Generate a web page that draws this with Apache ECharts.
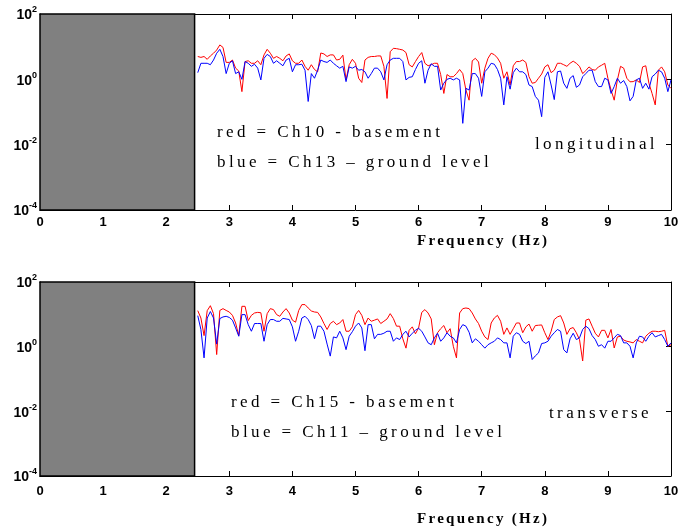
<!DOCTYPE html>
<html>
<head>
<meta charset="utf-8">
<script src="https://cdn.jsdelivr.net/npm/echarts@6/dist/echarts.min.js"></script>
<style>
html,body{margin:0;padding:0;background:#fff;}
#chart{width:683px;height:529px;}
</style>
</head>
<body>
<div id="chart"></div>
<script>
// ---------------- data ----------------
const xTicks = [0,1,2,3,4,5,6,7,8,9,10];
const yTickExponents = [-4,-2,0,2];
const grayBandEnd = 2.45; // Hz, shaded (excluded) low-frequency band

const freq = [
2.5,2.55,2.6,2.65,2.7,2.75,2.8,2.85,2.9,2.95,
3,3.05,3.1,3.15,3.2,3.25,3.3,3.35,3.4,3.45,
3.5,3.55,3.6,3.65,3.7,3.75,3.8,3.85,3.9,3.95,
4,4.05,4.1,4.15,4.2,4.25,4.3,4.35,4.4,4.45,
4.5,4.55,4.6,4.65,4.7,4.75,4.8,4.85,4.9,4.95,
5,5.05,5.1,5.15,5.2,5.25,5.3,5.35,5.4,5.45,
5.5,5.55,5.6,5.65,5.7,5.75,5.8,5.85,5.9,5.95,
6,6.05,6.1,6.15,6.2,6.25,6.3,6.35,6.4,6.45,
6.5,6.55,6.6,6.65,6.7,6.75,6.8,6.85,6.9,6.95,
7,7.05,7.1,7.15,7.2,7.25,7.3,7.35,7.4,7.45,
7.5,7.55,7.6,7.65,7.7,7.75,7.8,7.85,7.9,7.95,
8,8.05,8.1,8.15,8.2,8.25,8.3,8.35,8.4,8.45,
8.5,8.55,8.6,8.65,8.7,8.75,8.8,8.85,8.9,8.95,
9,9.05,9.1,9.15,9.2,9.25,9.3,9.35,9.4,9.45,
9.5,9.55,9.6,9.65,9.7,9.75,9.8,9.85,9.9,9.95,
10];

// longitudinal: red = Ch10 basement, blue = Ch13 ground level
const redLong = [
5.0,4.7,5.0,4.1,5.2,6.3,7.9,11.3,9.5,3.3,
3.3,3.9,2.2,1.8,0.42,3.5,3.7,3.1,3.1,3.7,
2.8,5.6,8.3,6.3,4.4,5.0,4.4,3.7,5.2,6.0,
3.7,3.1,3.1,3.9,2.5,1.9,2.8,2.0,1.7,6.4,
6.0,5.0,5.6,5.6,3.9,4.1,5.5,0.96,2.8,4.1,
3.1,1.08,0.8,3.9,4.7,5.0,5.0,5.2,5.2,2.5,
0.26,7.0,8.9,8.7,8.3,7.9,6.6,2.8,2.4,3.5,
5.0,6.6,3.1,2.6,2.8,3.1,3.1,1.4,0.37,1.4,
1.2,1.2,1.5,2.0,1.5,0.47,0.23,3.7,4.4,3.4,
0.76,2.2,4.4,6.3,5.7,4.5,3.1,1.08,1.7,0.67,
2.6,3.5,3.5,3.9,3.3,1.2,0.76,0.8,1.08,1.45,
2.4,2.8,1.6,1.9,3.1,3.1,2.8,2.5,3.1,3.6,
3.1,2.5,1.5,1.85,2.4,2.0,1.9,2.4,2.7,3.1,
1.08,0.47,0.23,0.96,2.5,2.2,1.08,0.84,0.85,0.96,
0.8,2.4,2.6,0.76,0.37,0.165,1.9,2.4,1.7,0.67,
0.53];
const blueLong = [
1.6,3.1,3.1,3.1,2.8,3.9,6.3,8.3,5.0,1.5,
3.1,3.7,1.5,1.7,1.0,3.5,3.1,2.5,2.9,2.2,
0.96,4.4,5.8,5.0,3.1,3.7,3.1,2.6,3.9,4.4,
1.7,2.8,2.8,2.9,1.9,0.21,1.5,1.08,1.9,3.9,
3.5,3.3,3.9,3.1,2.6,2.2,2.5,0.85,2.4,2.2,
2.5,1.9,2.0,1.7,1.08,1.5,2.2,2.2,1.7,0.96,
2.8,3.9,4.4,4.4,4.4,3.5,0.96,1.15,1.2,2.0,
3.1,3.7,0.76,1.9,3.0,2.5,2.5,0.47,0.76,1.0,
1.08,0.96,1.08,0.96,0.045,0.53,0.47,1.5,1.5,1.08,
0.30,1.7,2.2,3.1,2.9,2.0,1.08,0.165,1.2,0.5,
1.6,2.2,1.7,1.7,1.4,0.67,0.6,0.30,0.23,0.072,
1.15,1.7,0.67,0.24,1.7,1.8,0.76,0.53,1.08,1.3,
0.57,0.67,1.2,1.5,1.9,1.9,0.85,0.6,0.6,1.08,
0.96,0.37,0.6,1.08,0.76,0.92,0.6,0.22,0.30,0.96,
1.08,0.53,0.76,0.5,1.2,1.45,1.9,1.7,1.08,0.42,
0.96];

// transverse: red = Ch15 basement, blue = Ch11 ground level
const redTrans = [
13.0,7.7,2.2,13.0,18.5,10.5,0.57,13.2,15.0,13.2,
11.8,9.3,5.4,2.2,17.7,17.7,6.4,9.3,11.0,11.5,
11.2,3.0,10.5,15.0,14.0,9.8,8.7,11.8,15.0,11.0,
6.6,5.7,13.2,20.0,20.0,15.7,12.7,11.8,11.5,8.3,
5.2,3.4,5.2,6.1,4.8,5.4,6.9,3.0,3.0,4.1,
9.8,13.2,9.3,4.8,7.7,6.1,6.6,7.2,5.2,6.1,
7.2,10.5,7.4,4.3,4.3,1.75,0.9,3.2,4.1,2.5,
3.8,11.5,14.0,11.0,7.2,1.15,2.7,3.6,4.5,2.7,
3.6,1.03,0.45,11.0,15.0,15.7,15.0,11.0,7.2,5.2,
3.0,2.0,1.66,5.4,7.7,9.3,6.1,2.4,3.8,2.4,
3.6,5.4,5.4,2.7,4.1,5.0,3.0,4.5,4.6,4.7,
2.7,1.66,3.0,6.9,8.3,9.1,5.4,2.4,3.6,3.9,
2.7,1.66,0.36,6.6,7.2,4.3,2.6,2.0,3.2,3.2,
1.87,3.4,0.91,2.0,2.1,1.6,1.47,1.4,1.31,1.66,
1.47,1.31,2.1,2.6,3.0,3.0,2.9,3.0,3.2,1.03,
1.15];
const blueTrans = [
9.1,3.4,0.45,7.7,12.2,7.7,1.2,7.4,8.3,8.7,
8.0,6.6,3.8,2.1,9.8,9.8,4.8,3.0,5.2,5.2,
5.2,1.47,4.8,6.9,6.9,6.1,6.1,7.5,7.2,6.9,
4.1,1.47,3.0,7.7,8.7,6.9,4.5,1.75,4.3,4.3,
3.0,1.2,0.51,2.0,1.87,3.0,1.87,0.81,2.1,2.9,
4.3,5.4,3.8,0.75,4.8,4.8,1.75,2.4,2.4,2.6,
3.0,3.0,1.47,1.87,1.66,2.4,3.0,2.0,2.6,3.2,
3.7,3.0,2.0,1.31,1.15,1.87,2.6,1.47,1.87,2.7,
2.1,1.87,1.31,3.4,4.8,4.3,2.8,1.31,1.75,1.47,
1.15,0.9,1.15,1.31,1.47,1.87,1.66,1.31,1.31,0.45,
2.1,2.7,2.4,1.47,1.25,1.47,0.40,0.52,0.64,1.25,
1.31,1.47,2.1,2.7,3.4,3.0,0.81,0.64,1.75,2.6,
1.66,1.87,3.4,4.3,3.6,2.2,1.66,1.03,1.15,0.9,
1.47,1.47,1.87,2.4,2.2,1.31,1.31,1.03,0.45,1.31,
2.1,2.0,1.47,2.1,2.7,2.0,2.2,2.4,1.66,1.03,
1.31];

const notesLong = ['red = Ch10 - basement', 'blue = Ch13 \u2013 ground level', 'longitudinal'];
const notesTrans = ['red = Ch15 - basement', 'blue = Ch11 \u2013 ground level', 'transverse'];
const xName = 'Frequency (Hz)';

// -------------- letter spacing for the spaced serif texts --------------
(function(){
  const P = CanvasRenderingContext2D.prototype;
  const orig = P.fillText;
  P.fillText = function(t, x, y, w){
    const f = this.font || '';
    let ls = '0px';
    if (/Serif/.test(f)) ls = /bold/.test(f) ? '2.3px' : '3.4px';
    this.letterSpacing = ls;
    const r = (w === undefined) ? orig.call(this, t, x, y) : orig.call(this, t, x, y, w);
    this.letterSpacing = '0px';
    return r;
  };
})();

const SANS = 'Liberation Sans, Arial, sans-serif';
const SERIF = 'Liberation Serif, Times New Roman, serif';
const ymin = Math.pow(10, yTickExponents[0]);
const ymax = Math.pow(10, yTickExponents[yTickExponents.length-1]);

function pairs(ys){ return freq.map((f,i)=>[f, ys[i]]); }

const grids = [
  {left:40, top:14, width:631, height:196},
  {left:40, top:282, width:631, height:194}
];

function xAxes(gi, labelMargin){
  return [
    {gridIndex:gi, type:'value', min:xTicks[0], max:xTicks[xTicks.length-1], interval:1,
     axisLine:{show:true, lineStyle:{color:'#000', width:1}},
     axisTick:{show:true, inside:true, length:5, lineStyle:{color:'#000'}},
     axisLabel:{show:true, margin:labelMargin, color:'#000', fontFamily:SANS, fontWeight:'bold', fontSize:13},
     splitLine:{show:false}},
    {gridIndex:gi, type:'value', position:'top', min:xTicks[0], max:xTicks[xTicks.length-1], interval:1,
     axisLine:{show:true, onZero:false, lineStyle:{color:'#000', width:1}},
     axisTick:{show:true, inside:true, length:5, lineStyle:{color:'#000'}},
     axisLabel:{show:false}, splitLine:{show:false}}
  ];
}
function yAxes(gi){
  const base = {gridIndex:gi, type:'log', logBase:10, min:ymin, max:ymax, interval:2, splitLine:{show:false}, minorTick:{show:false}};
  return [
    Object.assign({}, base, {position:'left',
      axisLine:{show:true, lineStyle:{color:'#000', width:1}},
      axisTick:{show:true, inside:true, length:5, lineStyle:{color:'#000'}},
      axisLabel:{show:true, margin:3, color:'#000',
        formatter:function(v){ const e = Math.round(Math.log10(v)); return '{b|10}{s|' + e + '}'; },
        rich:{
          b:{fontFamily:SANS, fontSize:14, fontWeight:'bold', color:'#000', lineHeight:17, verticalAlign:'bottom'},
          s:{fontFamily:SANS, fontSize:9, fontWeight:'bold', color:'#000', lineHeight:10, verticalAlign:'top'}
        }}}),
    Object.assign({}, base, {position:'right',
      axisLine:{show:true, onZero:false, lineStyle:{color:'#000', width:1}},
      axisTick:{show:true, inside:true, length:5, lineStyle:{color:'#000'}},
      axisLabel:{show:false}})
  ];
}

function bandArea(){
  return {silent:true,
    itemStyle:{color:'#808080', borderColor:'#000', borderWidth:1.5},
    data:[[{coord:[xTicks[0], ymin]}, {coord:[grayBandEnd, ymax]}]]};
}
function line(name, ys, color, xi, yi, withBand){
  const s = {name:name, type:'line', xAxisIndex:xi, yAxisIndex:yi, data:pairs(ys),
    showSymbol:false, symbol:'none', lineStyle:{color:color, width:1}, itemStyle:{color:color},
    animation:false, silent:true, clip:true};
  if (withBand) s.markArea = bandArea();
  return s;
}

function note(x, y, s, font){
  return {type:'text', x:x, y:y, silent:true,
    style:{text:s, fill:'#000', font:font || ('normal 17px ' + SERIF), textAlign:'left', textVerticalAlign:'middle'}};
}

const graphics = [
  note(417, 241, xName, 'bold 15px ' + SERIF),
  note(417, 519, xName, 'bold 15px ' + SERIF),
  note(217, 133, notesLong[0]),
  note(217, 163, notesLong[1]),
  note(535, 145, notesLong[2]),
  note(231, 403, notesTrans[0]),
  note(231, 433, notesTrans[1]),
  note(549, 414, notesTrans[2])
];

const chart = echarts.init(document.getElementById('chart'), null, {renderer:'canvas'});
chart.setOption({
  animation:false,
  backgroundColor:'#fff',
  grid:grids,
  xAxis:[].concat(xAxes(0, 6), xAxes(1, 9)),
  yAxis:[].concat(yAxes(0), yAxes(1)),
  series:[
    line('Ch10 - basement', redLong, '#ff0000', 0, 0, true),
    line('Ch13 - ground level', blueLong, '#0000ff', 0, 0, false),
    line('Ch15 - basement', redTrans, '#ff0000', 2, 2, true),
    line('Ch11 - ground level', blueTrans, '#0000ff', 2, 2, false)
  ],
  graphic:graphics
});
</script>
</body>
</html>
